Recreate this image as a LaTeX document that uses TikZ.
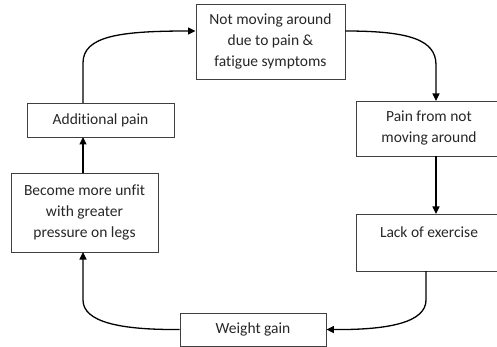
\documentclass[tikz,border=0pt]{standalone}
\usepackage{fontspec}
\setmainfont{Carlito}[Ligatures=NoCommon]
\usetikzlibrary{arrows.meta,calc}
\begin{document}
\begin{tikzpicture}[x=1pt,y=-1pt,
  box/.style={draw=black!75, line width=0.9pt, rectangle, inner sep=0pt, align=center,
    text=black!85, font=\fontsize{15.5}{21}\selectfont},
  conn/.style={line width=1.3pt, -{Triangle[length=7.5pt,width=7pt]}}]
\useasboundingbox (0,0) rectangle (497,347);
\node[box, minimum width=149pt, minimum height=75pt] (top) at (270.5,41.5)
  {Not moving around\\due to pain \&\\fatigue symptoms};
\node[box, minimum width=146pt, minimum height=55pt] (pain) at (429,128.5)
  {Pain from not\\moving around};
\node[box, minimum width=146pt, minimum height=57pt] (lack) at (429,242.5)
  {Lack of exercise\\~};
\node[box, minimum width=146pt, minimum height=33pt] (weight) at (253,329.5)
  {Weight gain};
\node[box, minimum width=147pt, minimum height=79pt] (unfit) at (84.5,212.5)
  {Become more unfit\\with greater\\pressure on legs};
\node[box, minimum width=147pt, minimum height=34pt] (addp) at (100.5,120)
  {Additional pain};
% connectors
\coordinate (a1) at (83,103);
\coordinate (a2) at (83,63);
\coordinate (t1) at ($(top.west)+(0,-10.5)$);
\draw[conn] (a1) -- (a2) .. controls (83,36) and (120,31) .. (t1);
\coordinate (t2) at ($(top.east)+(0,-10.5)$);
\coordinate (b1) at (436,65);
\coordinate (b2) at (436,101);
\draw[conn] (t2) .. controls (410,31) and (436,40) .. (b1) -- (b2);
\coordinate (c1) at (436,156);
\coordinate (c2) at (436,214);
\draw[conn] (c1) -- (c2);
\coordinate (d1) at (426,271);
\coordinate (d2) at (426,300);
\draw[conn] (d1) -- (d2) .. controls (426,322) and (390,330) .. (weight.east);
\coordinate (e1) at (83,300);
\coordinate (e2) at (83,252);
\draw[conn] (weight.west) .. controls (120,330) and (83,322) .. (e1) -- (e2);
\coordinate (f1) at (83,173);
\coordinate (f2) at (83,137);
\draw[conn] (f1) -- (f2);
\end{tikzpicture}
\end{document}
